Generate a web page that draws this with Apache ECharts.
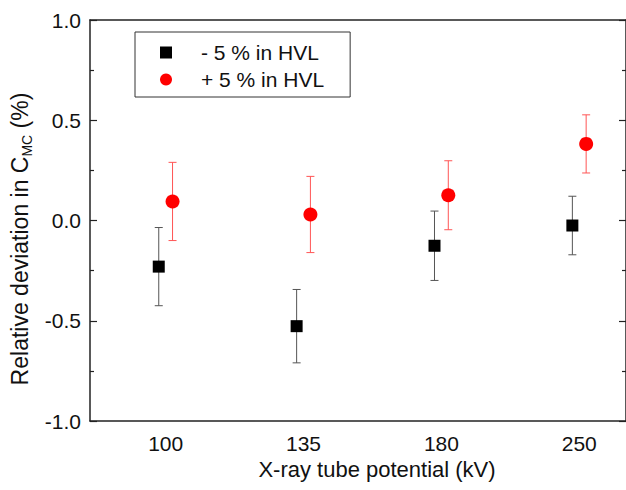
<!DOCTYPE html>
<html>
<head>
<meta charset="utf-8">
<script src="https://cdn.jsdelivr.net/npm/echarts@6/dist/echarts.min.js"></script>
<style>
html,body{margin:0;padding:0;background:#fff;}
#chart{width:626px;height:490px;}
</style>
</head>
<body>
<div id="chart"></div>
<script>
// tube potentials (kV)
var categories = ['100', '135', '180', '250'];
// -5 % in HVL
var minusMean = [-0.23, -0.527, -0.126, -0.025];
var minusErr = [0.195, 0.183, 0.173, 0.146];
// +5 % in HVL
var plusMean = [0.095, 0.03, 0.126, 0.382];
var plusErr = [0.195, 0.19, 0.172, 0.145];
var yTicks = [-1.0, -0.5, 0.0, 0.5, 1.0];

var FONT = 'Liberation Sans';
var shift = 0.05; // horizontal offset of the two series around each category

function pts(means, dx) {
    var out = [];
    for (var i = 0; i < means.length; i++) {
        out.push([i + 1 + dx, means[i]]);
    }
    return out;
}
function bars(means, errs, dx) {
    var out = [];
    for (var i = 0; i < means.length; i++) {
        out.push([i + 1 + dx, means[i] - errs[i], means[i] + errs[i]]);
    }
    return out;
}
function errorBar(color) {
    return function (params, api) {
        var lo = api.coord([api.value(0), api.value(1)]);
        var hi = api.coord([api.value(0), api.value(2)]);
        var w = 4;
        var st = { stroke: color, lineWidth: 1 };
        return {
            type: 'group',
            children: [
                { type: 'line', shape: { x1: hi[0], y1: hi[1], x2: lo[0], y2: lo[1] }, style: st },
                { type: 'line', shape: { x1: hi[0] - w, y1: hi[1], x2: hi[0] + w, y2: hi[1] }, style: st },
                { type: 'line', shape: { x1: lo[0] - w, y1: lo[1], x2: lo[0] + w, y2: lo[1] }, style: st }
            ]
        };
    };
}

var axisLine = { show: true, onZero: false, lineStyle: { color: '#222', width: 1.5 } };

var chart = echarts.init(document.getElementById('chart'), null, { renderer: 'svg' });
var option = {
    animation: false,
    backgroundColor: '#fff',
    grid: { left: 90, right: -2, top: 20, bottom: 69, containLabel: false },
    legend: {
        orient: 'vertical',
        left: 135,
        top: 32,
        padding: [10, 26, 7, 25],
        itemGap: 6,
        itemWidth: 12,
        itemHeight: 12,
        borderColor: '#333',
        borderWidth: 1,
        textStyle: { fontFamily: FONT, fontSize: 21, color: '#111', padding: [0, 0, 0, 24] },
        data: ['- 5 % in HVL', '+ 5 % in HVL']
    },
    xAxis: [{
        type: 'value',
        min: 0.4513,
        max: 4.339,
        name: 'X-ray tube potential (kV)',
        nameLocation: 'middle',
        nameGap: 36,
        nameTextStyle: { fontFamily: FONT, fontSize: 22, color: '#111', padding: [0, 0, 0, 38] },
        axisLine: axisLine,
        axisTick: { show: false },
        splitLine: { show: false },
        axisLabel: {
            customValues: [1, 2, 3, 4],
            margin: 12,
            fontFamily: FONT, fontSize: 21, color: '#111',
            formatter: function (v) { return categories[Math.round(v) - 1]; }
        }
    }, {
        type: 'value',
        position: 'top',
        min: 0.4513,
        max: 4.339,
        axisLine: axisLine,
        axisTick: { show: false },
        axisLabel: { show: false },
        splitLine: { show: false }
    }],
    yAxis: [{
        type: 'value',
        min: -1,
        max: 1,
        interval: 0.5,
        name: '{a|Relative deviation in C}{b|MC}{a| (%)}',
        nameLocation: 'middle',
        nameGap: 54,
        nameTextStyle: {
            padding: [0, 37, 0, 0],
            rich: {
                a: { fontFamily: FONT, fontSize: 23, color: '#111', lineHeight: 28 },
                b: { fontFamily: FONT, fontSize: 14, color: '#111', lineHeight: 28, verticalAlign: 'bottom', padding: [9, 0, 0, 0] }
            }
        },
        axisLine: axisLine,
        axisTick: { show: true, inside: true, length: 7, lineStyle: { color: '#222', width: 1.2 } },
        minorTick: { show: true, splitNumber: 2, length: 4, lineStyle: { color: '#222', width: 1.2 } },
        splitLine: { show: false },
        axisLabel: {
            margin: 9,
            fontFamily: FONT, fontSize: 21, color: '#111',
            formatter: function (v) {
                for (var i = 0; i < yTicks.length; i++) {
                    if (Math.abs(yTicks[i] - v) < 1e-9) return yTicks[i].toFixed(1);
                }
                return '';
            }
        }
    }, {
        type: 'value',
        position: 'right',
        min: -1,
        max: 1,
        interval: 0.5,
        axisLine: axisLine,
        axisTick: { show: true, inside: true, length: 7, lineStyle: { color: '#222', width: 1.2 } },
        minorTick: { show: true, splitNumber: 2, length: 4, lineStyle: { color: '#222', width: 1.2 } },
        axisLabel: { show: false },
        splitLine: { show: false }
    }],
    series: [{
        type: 'custom',
        renderItem: errorBar('#555'),
        data: bars(minusMean, minusErr, -shift),
        z: 1,
        silent: true
    }, {
        type: 'custom',
        renderItem: errorBar('#ff5555'),
        data: bars(plusMean, plusErr, shift),
        z: 1,
        silent: true
    }, {
        name: '- 5 % in HVL',
        type: 'scatter',
        symbol: 'rect',
        symbolSize: 12,
        itemStyle: { color: '#000', opacity: 1 },
        data: pts(minusMean, -shift),
        z: 3
    }, {
        name: '+ 5 % in HVL',
        type: 'scatter',
        symbol: 'circle',
        symbolSize: 14,
        itemStyle: { color: '#ff0000', opacity: 1 },
        data: pts(plusMean, shift),
        z: 3
    }]
};
chart.setOption(option);
window.addEventListener('resize', function () {
    chart.resize();
});
</script>
</body>
</html>
